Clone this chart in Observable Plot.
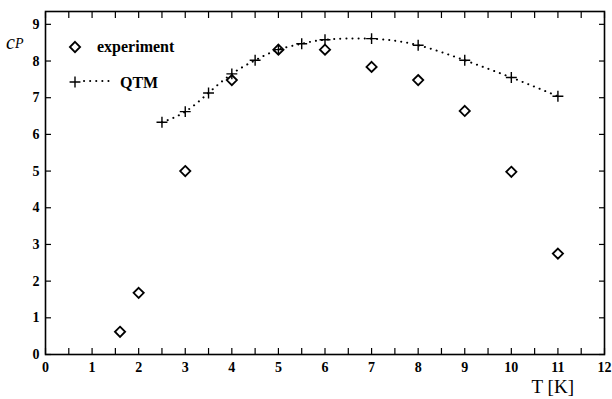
<!DOCTYPE html>
<html><head><meta charset="utf-8">
<script src="https://cdn.jsdelivr.net/npm/d3@7"></script>
<script src="https://cdn.jsdelivr.net/npm/@observablehq/plot@0.6"></script>
<style>body{margin:0;background:#fff}</style>
</head><body><div id="chart"></div>
<script>
const expT  = [1.6, 2, 3, 4, 5, 6, 7, 8, 9, 10, 11];
const expCp = [0.62, 1.68, 5.0, 7.48, 8.31, 8.31, 7.84, 7.48, 6.64, 4.98, 2.75];
const qtmT  = [2.5, 3, 3.5, 4, 4.5, 5, 5.5, 6, 7, 8, 9, 10, 11];
const qtmCp = [6.33, 6.62, 7.13, 7.65, 8.02, 8.31, 8.47, 8.58, 8.61, 8.43, 8.02, 7.55, 7.04];
const xLabels = [0, 1, 2, 3, 4, 5, 6, 7, 8, 9, 10, 11, 12];
const xMinor  = [0, 0.5, 1, 1.5, 2, 2.5, 3, 3.5, 4, 4.5, 5, 5.5, 6, 6.5, 7, 7.5, 8, 8.5, 9, 9.5, 10, 10.5, 11, 11.5, 12];
const yLabels = [0, 1, 2, 3, 4, 5, 6, 7, 8, 9];
const legendNames = ["experiment", "QTM"];
const xTitle = "T [K]";

const expData = expT.map((t, i) => ({t, cp: expCp[i]}));
const qtmData = qtmT.map((t, i) => ({t, cp: qtmCp[i]}));

const serif = "'Liberation Serif', 'DejaVu Serif', serif";
const diamondR = 4.6, plusR = 3.6;
const dots = "0.1,6";

function overlay(index, scales, values, dims) {
  const g = d3.create("svg:g").style("font-family", serif).attr("fill", "black")
    .style("text-anchor", "start").style("font-weight", "normal");
  const L = dims.marginLeft, T = dims.marginTop;
  // legend: experiment
  g.append("path")
    .attr("d", d3.symbol(d3.symbolDiamond2, Math.PI * diamondR * diamondR)())
    .attr("transform", `translate(${L + 30},${T + 36})`)
    .attr("fill", "none").attr("stroke", "black").attr("stroke-width", 1.8);
  g.append("text").attr("x", L + 52).attr("y", T + 41)
    .style("font-size", "16px").style("font-weight", "bold").text(legendNames[0]);
  // legend: QTM
  g.append("path")
    .attr("d", d3.symbol(d3.symbolPlus, Math.PI * plusR * plusR)())
    .attr("transform", `translate(${L + 30},${T + 71})`)
    .attr("fill", "none").attr("stroke", "black").attr("stroke-width", 1.4);
  g.append("line").attr("x1", L + 39).attr("x2", L + 64)
    .attr("y1", T + 70).attr("y2", T + 70)
    .attr("stroke", "black").attr("stroke-width", 2)
    .attr("stroke-dasharray", dots).attr("stroke-linecap", "round");
  g.append("text").attr("x", L + 75).attr("y", T + 77)
    .style("font-size", "16px").style("font-weight", "bold").text(legendNames[1]);
  // y title c_P
  const yt = g.append("text").attr("x", 6).attr("y", T + 38)
    .style("font-style", "italic").style("font-size", "20px");
  yt.append("tspan").text("c");
  yt.append("tspan").style("font-size", "14px").attr("dy", -1).text("P");
  // x title
  g.append("text").attr("x", dims.width - 38).attr("y", dims.height - 6)
    .style("text-anchor", "end").style("font-size", "19px").text(xTitle);
  return g.node();
}

const chart = Plot.plot({
  width: 612,
  height: 399,
  marginLeft: 45,
  marginRight: 8,
  marginTop: 11,
  marginBottom: 45,
  style: {fontFamily: serif, fontSize: "14px", fontWeight: "bold", background: "#fff", color: "black"},
  x: {domain: [0, 12], axis: null},
  y: {domain: [0, 9.35], axis: null},
  marks: [
    Plot.line(qtmData, {x: "t", y: "cp", curve: "natural", stroke: "black", strokeWidth: 2,
      strokeDasharray: dots, strokeLinecap: "round"}),
    Plot.dot(qtmData, {x: "t", y: "cp", symbol: "plus", r: plusR, stroke: "black", strokeWidth: 1.4}),
    Plot.dot(expData, {x: "t", y: "cp", symbol: "diamond2", r: diamondR, stroke: "black", strokeWidth: 1.8, fill: "none"}),
    Plot.axisX(xMinor, {anchor: "bottom", tickSize: -6, tickFormat: () => "", label: null, strokeWidth: 1.2}),
    Plot.axisX(xMinor, {anchor: "top", tickSize: -6, tickFormat: () => "", label: null, strokeWidth: 1.2}),
    Plot.axisX(xLabels, {anchor: "bottom", tickSize: 0, tickPadding: 8, label: null}),
    Plot.axisY(yLabels, {anchor: "left", tickSize: -6, tickFormat: () => "", label: null, strokeWidth: 1.2}),
    Plot.axisY(yLabels, {anchor: "right", tickSize: -6, tickFormat: () => "", label: null, strokeWidth: 1.2}),
    Plot.axisY(yLabels, {anchor: "left", tickSize: 0, tickPadding: 6, label: null}),
    Plot.frame({stroke: "black", strokeWidth: 1.6}),
    overlay
  ]
});
document.getElementById("chart").append(chart);
</script>
</body></html>
